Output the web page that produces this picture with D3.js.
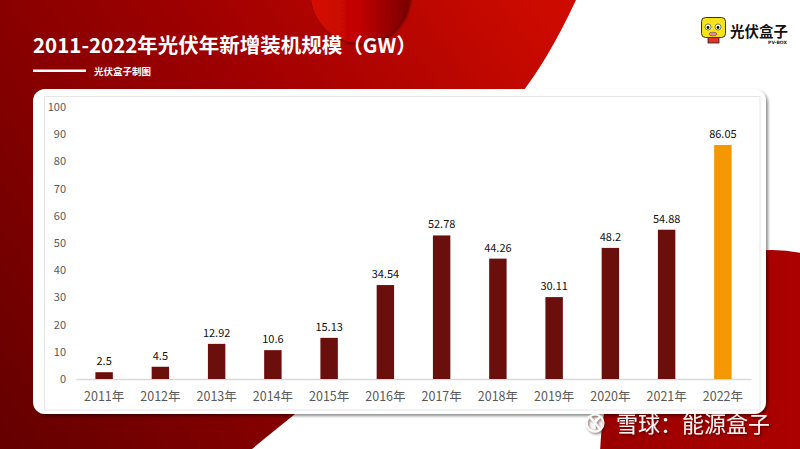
<!DOCTYPE html>
<html><head><meta charset="utf-8">
<script src="https://cdn.jsdelivr.net/npm/d3@7"></script>
<style>html,body{margin:0;padding:0;background:#fff;overflow:hidden}svg{display:block}</style>
</head><body>
<svg id="c" width="800" height="449"></svg>
<script>
const years = ["2011年","2012年","2013年","2014年","2015年","2016年","2017年","2018年","2019年","2020年","2021年","2022年"];
const values = [2.5, 4.5, 12.92, 10.6, 15.13, 34.54, 52.78, 44.26, 30.11, 48.2, 54.88, 86.05];
const yTicks = [0,10,20,30,40,50,60,70,80,90,100];
const highlightYears = ["2022年"];
const title = "2011-2022年光伏年新增装机规模（GW）";
const subtitle = "光伏盒子制图";
const watermark = "雪球：能源盒子";

const svg = d3.select("#c");
const FONT = "'Noto Sans CJK SC','Noto Sans',sans-serif";
const defs = svg.append("defs");

const g1 = defs.append("linearGradient").attr("id","gRed").attr("gradientUnits","userSpaceOnUse")
  .attr("x1",0).attr("y1",449).attr("x2",600).attr("y2",0);
g1.append("stop").attr("offset",0).attr("stop-color","#640000");
g1.append("stop").attr("offset",0.55).attr("stop-color","#9e0000");
g1.append("stop").attr("offset",1).attr("stop-color","#d40c00");
const g2 = defs.append("linearGradient").attr("id","gRed2").attr("x1",0).attr("y1",0).attr("x2",1).attr("y2",0);
g2.append("stop").attr("offset",0).attr("stop-color","#9a0000");
g2.append("stop").attr("offset",1).attr("stop-color","#b80200");
const g3 = defs.append("linearGradient").attr("id","gCirc").attr("x1",0).attr("y1",0).attr("x2",1).attr("y2",0);
g3.append("stop").attr("offset",0).attr("stop-color","#d60c00");
g3.append("stop").attr("offset",0.5).attr("stop-color","#c00400");
g3.append("stop").attr("offset",1).attr("stop-color","#7a0000");
const sh = defs.append("filter").attr("id","shadow").attr("x","-5%").attr("y","-5%").attr("width","110%").attr("height","115%");
sh.append("feDropShadow").attr("dx",2).attr("dy",2).attr("stdDeviation",1.8).attr("flood-color","#000").attr("flood-opacity",0.45);
const sh2 = defs.append("filter").attr("id","tshadow");
sh2.append("feDropShadow").attr("dx",1.5).attr("dy",1.5).attr("stdDeviation",1).attr("flood-color","#3a0000").attr("flood-opacity",0.7);

// background
svg.append("rect").attr("width",800).attr("height",449).attr("fill","#fff");
svg.append("path").attr("d","M0,0 L576,0 Q548,60 520,95 L300,410 Q275,430 252,449 L0,449 Z").attr("fill","url(#gRed)");
svg.append("ellipse").attr("cx",772).attr("cy",458).attr("rx",172).attr("ry",208).attr("fill","url(#gRed2)");
svg.append("circle").attr("cx",360).attr("cy",-6).attr("r",49).attr("fill","url(#gCirc)").attr("filter","url(#shadow)");

// title
svg.append("text").attr("x",33).attr("y",53).attr("fill","#fff").attr("font-family",FONT)
  .attr("font-weight","bold").attr("font-size",20.5).text(title);
svg.append("rect").attr("x",33).attr("y",69.5).attr("width",53).attr("height",2.5).attr("fill","#fff");
svg.append("text").attr("x",94).attr("y",75).attr("fill","#fff").attr("font-family",FONT)
  .attr("font-weight","bold").attr("font-size",9.5).text(subtitle);

// logo
const lg = svg.append("g");
lg.append("rect").attr("x",708).attr("y",36).attr("width",11).attr("height",7).attr("fill","#e4312b").attr("stroke","#222").attr("stroke-width",0.8);
lg.append("rect").attr("x",701.5).attr("y",17.5).attr("width",24).attr("height",20).attr("rx",4).attr("fill","#f5e31c").attr("stroke","#333").attr("stroke-width",1);
[708,718].forEach(cx=>{
  lg.append("circle").attr("cx",cx).attr("cy",27).attr("r",3).attr("fill","#fff").attr("stroke","#333").attr("stroke-width",0.6);
  lg.append("circle").attr("cx",cx).attr("cy",27.5).attr("r",1.4).attr("fill","#111");
});
lg.append("ellipse").attr("cx",713).attr("cy",34).attr("rx",4).attr("ry",1.8).attr("fill","#f08aa0").attr("stroke","#333").attr("stroke-width",0.5);
svg.append("text").attr("x",730).attr("y",36.5).attr("font-family",FONT).attr("font-weight","bold")
  .attr("font-size",14.5).attr("fill","#111").text("光伏盒子");
svg.append("text").attr("x",787).attr("y",43.5).attr("text-anchor","end").attr("font-family","'DejaVu Sans',sans-serif")
  .attr("font-weight","bold").attr("font-size",4.5).attr("fill","#222").text("PV-BOX");

// card
svg.append("rect").attr("x",33).attr("y",89).attr("width",733).attr("height",325).attr("rx",12)
  .attr("fill","#fff").attr("filter","url(#shadow)");
svg.append("rect").attr("x",44.5).attr("y",96.5).attr("width",715.5).attr("height",313.5)
  .attr("fill","none").attr("stroke","#e6e6e6").attr("stroke-width",1);

// scales
const y = d3.scaleLinear().domain([0,100]).range([379,107]);
const x = d3.scaleBand().domain(years).range([76,751]).paddingInner(0.69).paddingOuter(0.345);

const ya = svg.append("g").attr("transform","translate(66,0)")
  .call(d3.axisLeft(y).tickValues(yTicks).tickSize(0).tickPadding(0));
ya.select(".domain").remove();
ya.selectAll("text").attr("font-family",FONT).attr("font-size",11).attr("fill","#595959");

const xa = svg.append("g").attr("transform","translate(0,379)")
  .call(d3.axisBottom(x).tickSize(0).tickPadding(13).tickSizeOuter(0));
xa.select(".domain").attr("stroke","#d9d9d9").attr("stroke-width",1.5);
xa.selectAll("text").attr("font-family",FONT).attr("font-size",12.5).attr("fill","#595959");

const data = years.map((yr,i)=>({yr, v: values[i]}));
svg.append("g").selectAll("rect").data(data).join("rect")
  .attr("x",d=>x(d.yr)).attr("width",x.bandwidth())
  .attr("y",d=>y(d.v)).attr("height",d=>y(0)-y(d.v))
  .attr("fill",d=>highlightYears.includes(d.yr)?"#f39800":"#6b0f0c");
svg.append("g").selectAll("text").data(data).join("text")
  .attr("x",d=>x(d.yr)+x.bandwidth()/2).attr("y",d=>y(d.v)-7)
  .attr("text-anchor","middle").attr("font-family",FONT).attr("font-size",11).attr("fill","#111")
  .text(d=>d.v);

// watermark
const wm = svg.append("g").attr("filter","url(#tshadow)");
wm.append("circle").attr("cx",595).attr("cy",423).attr("r",8.5).attr("fill","none").attr("stroke","#fff").attr("stroke-width",2).attr("opacity",0.9);
wm.append("path").attr("d","M590,417 L600,429 M600,417 Q592,423 595,429").attr("fill","none").attr("stroke","#fff").attr("stroke-width",2).attr("opacity",0.9);
wm.append("text").attr("x",616).attr("y",432).attr("font-family",FONT).attr("font-size",22)
  .attr("fill","#fff").attr("opacity",0.95).text(watermark);
</script>
</body></html>
